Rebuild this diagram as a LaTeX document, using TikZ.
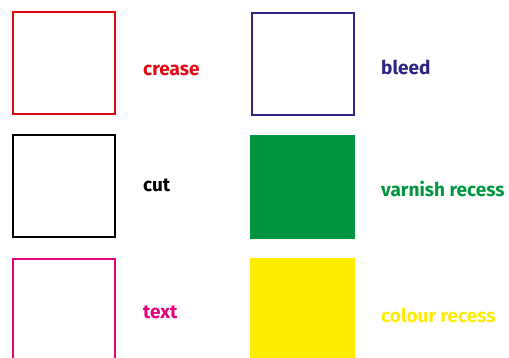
\documentclass[tikz,border=0pt]{standalone}
\usepackage{fontspec}
\setmainfont{Fira Sans}
\definecolor{cRed}{HTML}{E30613}
\definecolor{cBlue}{HTML}{2E2382}
\definecolor{cGreen}{HTML}{009640}
\definecolor{cPink}{HTML}{E6007E}
\definecolor{cYellow}{HTML}{FFED00}
\begin{document}
\begin{tikzpicture}[x=1pt,y=-1pt,
  outlinebox/.style={draw,line width=2pt},
  lbl/.style={anchor=base west,inner sep=0pt,font=\bfseries\fontsize{19}{22}\selectfont}]
\path[use as bounding box,fill=white] (0,0) rectangle (509,358);
\clip (0,0) rectangle (509,358);
\draw[outlinebox,cRed] (13,12) rectangle (115,114);
\draw[outlinebox,cBlue] (252,13.5) rectangle (354,115);
\draw[outlinebox,black] (13,135) rectangle (115,237);
\fill[cGreen] (250,135) rectangle (355,239);
\draw[outlinebox,cPink] (13,259) rectangle (115,380);
\fill[cYellow] (250,258) rectangle (355,380);
\node[lbl,text=cRed] (crease) at (143,76) {crease};
\node[lbl,text=cBlue] (bleed) at (381,75) {bleed};
\node[lbl,text=black] (cut) at (143,192) {cut};
\node[lbl,text=cGreen] (varnish) at (381,197) {varnish recess};
\node[lbl,text=cPink] (text) at (143,319) {text};
\node[lbl,text=cYellow] (colour) at (381,323) {colour recess};
\end{tikzpicture}
\end{document}
